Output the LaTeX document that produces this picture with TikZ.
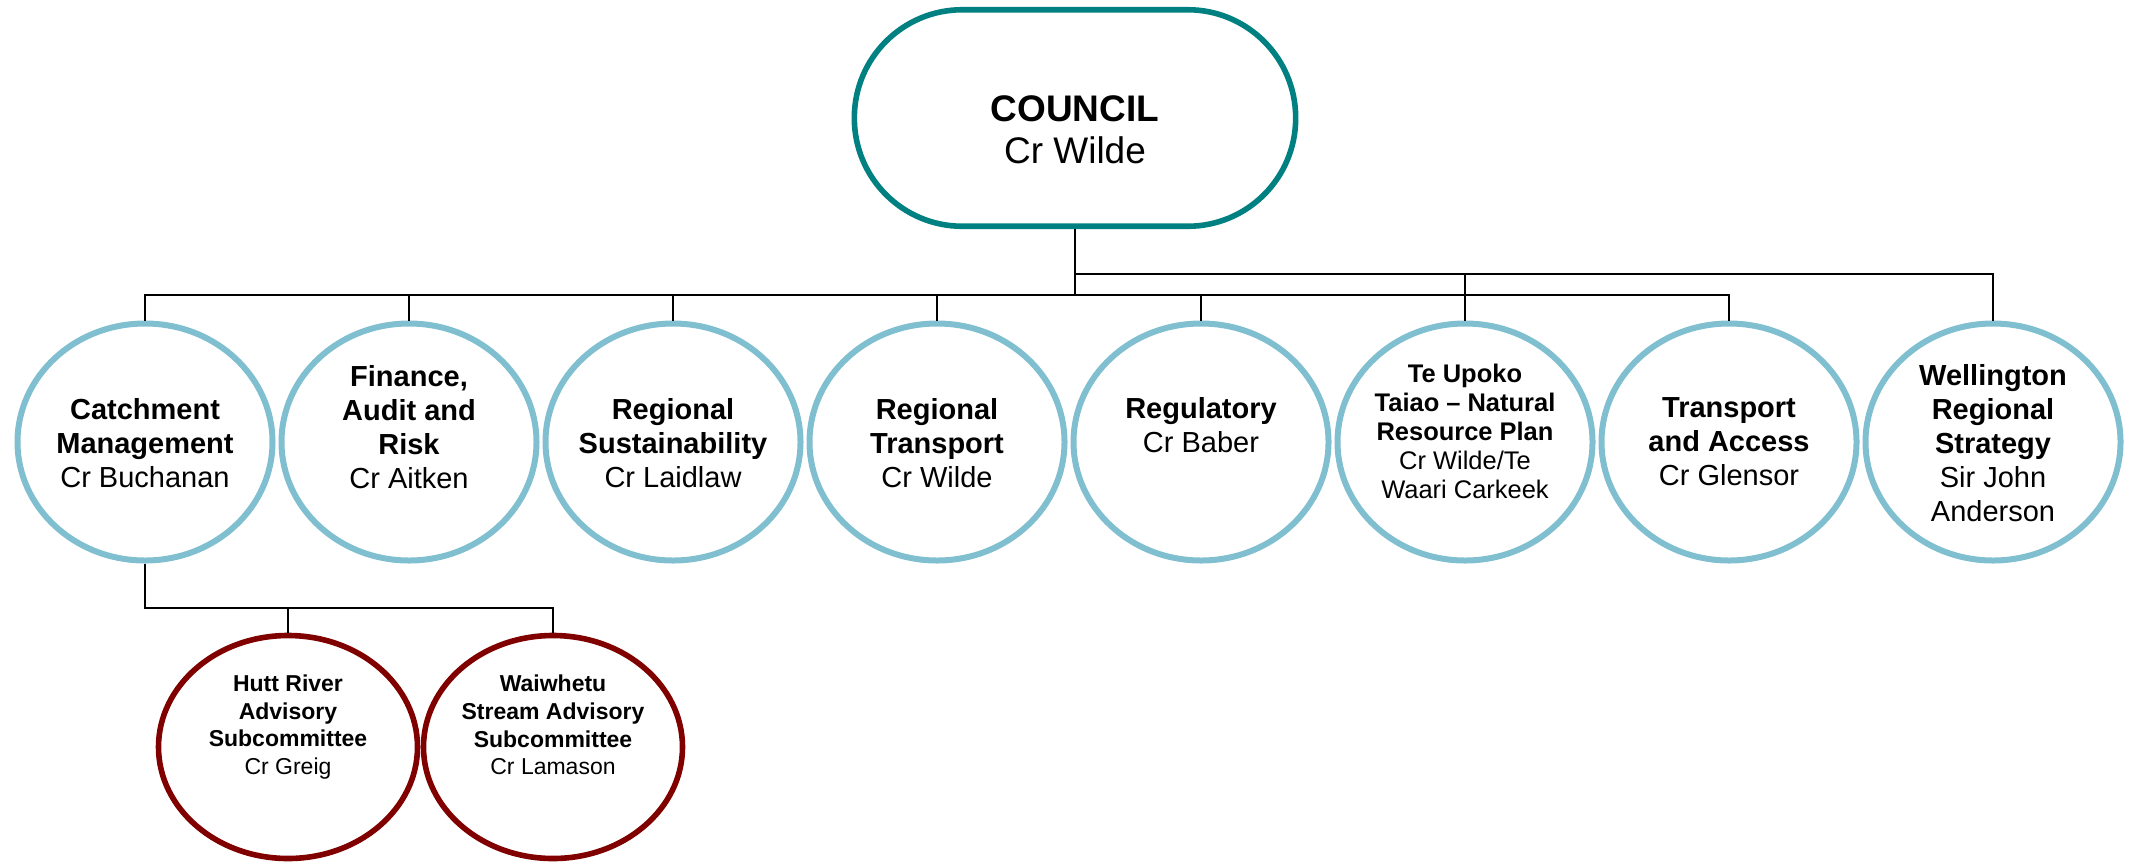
\documentclass[tikz,border=0pt]{standalone}
\usepackage{fontspec}
\setmainfont{Liberation Sans}
\usetikzlibrary{shapes.geometric}
\definecolor{councilc}{HTML}{008080}
\definecolor{commc}{HTML}{7FBFCF}
\definecolor{subc}{HTML}{800000}

\begin{document}
\begin{tikzpicture}[x=0.75pt,y=-0.75pt,
    councilbox/.style={draw=councilc,line width=4.2pt,rounded corners=81pt,
      minimum width=331pt,minimum height=162.4pt,inner sep=0pt},
    comm/.style={ellipse,draw=commc,line width=4.5pt,
      minimum width=191.25pt,minimum height=177.75pt,inner sep=0pt},
    subcomm/.style={ellipse,draw=subc,line width=4.2pt,
      minimum width=194.25pt,minimum height=167.25pt,inner sep=0pt},
    lbl/.style={align=center,inner sep=0pt},
    bigf/.style={font=\fontsize{27.75}{31.5}\selectfont},
    rowf/.style={font=\fontsize{21.75}{25.5}\selectfont},
    tightf/.style={font=\fontsize{19.1}{21.75}\selectfont},
    smallf/.style={font=\fontsize{17.25}{20.8}\selectfont},
    conn/.style={line width=1.5pt}]
    \useasboundingbox (0,0) rectangle (2129,861);

    % council
    \node[councilbox] (council) at (1075,118) {};
    \node[lbl,bigf] (council-t) at (1075,130) {\textbf{COUNCIL}\\Cr Wilde};

    % committees
    \node[comm] (catch) at (145,442) {};
    \node[comm] (fin) at (409,442) {};
    \node[comm] (rsus) at (673,442) {};
    \node[comm] (rtra) at (937,442) {};
    \node[comm] (reg) at (1201,442) {};
    \node[comm] (teu) at (1465,442) {};
    \node[comm] (tac) at (1729,442) {};
    \node[comm] (wrs) at (1993,442) {};

    \node[lbl,rowf] (catch-t) at (145,443) {\textbf{Catchment}\\\textbf{Management}\\Cr Buchanan};
    \node[lbl,rowf] (fin-t) at (409,427) {\textbf{Finance,}\\\textbf{Audit and}\\\textbf{Risk}\\Cr Aitken};
    \node[lbl,rowf] (rsus-t) at (673,443) {\textbf{Regional}\\\textbf{Sustainability}\\Cr Laidlaw};
    \node[lbl,rowf] (rtra-t) at (937,443) {\textbf{Regional}\\\textbf{Transport}\\Cr Wilde};
    \node[lbl,rowf] (reg-t) at (1201,425) {\textbf{Regulatory}\\Cr Baber};
    \node[lbl,tightf] (teu-t) at (1465,431) {\textbf{Te Upoko}\\\textbf{Taiao – Natural}\\\textbf{Resource Plan}\\Cr Wilde/Te\\Waari Carkeek};
    \node[lbl,rowf] (tac-t) at (1729,442) {\textbf{Transport}\\\textbf{and Access}\\Cr Glensor};
    \node[lbl,rowf] (wrs-t) at (1993,443) {\textbf{Wellington}\\\textbf{Regional}\\\textbf{Strategy}\\Sir John\\Anderson};

    % subcommittees
    \node[subcomm] (hutt) at (288,747) {};
    \node[subcomm] (wai) at (553,747) {};
    \node[lbl,smallf] (hutt-t) at (288,727) {\textbf{Hutt River}\\\textbf{Advisory}\\\textbf{Subcommittee}\\Cr Greig};
    \node[lbl,smallf] (wai-t) at (553,725) {\textbf{Waiwhetu}\\\textbf{Stream Advisory}\\\textbf{Subcommittee}\\Cr Lamason};

    % lines
    \coordinate (busA) at (0,274);
    \coordinate (busB) at (0,295);
    \coordinate (busC) at (0,608);
    \draw[conn] (council.south) -- (council.south |- busB);
    \draw[conn] (council.south |- busA) -| (wrs.north);
    \draw[conn] (teu.north) -- (teu.north |- busA);
    \draw[conn] (catch.north) -- (catch.north |- busB) -| (tac.north);
    \draw[conn] (fin.north) -- (fin.north |- busB);
    \draw[conn] (rsus.north) -- (rsus.north |- busB);
    \draw[conn] (rtra.north) -- (rtra.north |- busB);
    \draw[conn] (reg.north) -- (reg.north |- busB);
    \draw[conn] (catch.south) -- (catch.south |- busC) -| (wai.north);
    \draw[conn] (hutt.north) -- (hutt.north |- busC);
\end{tikzpicture}
\end{document}
